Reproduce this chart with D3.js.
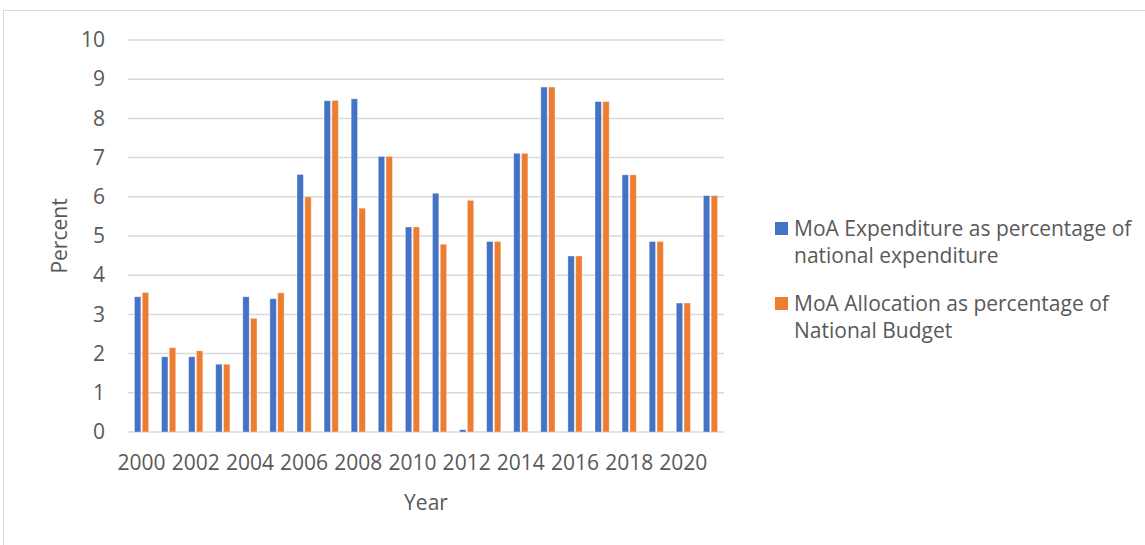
<!DOCTYPE html>
<html>
<head>
<meta charset="utf-8">
<script src="https://cdn.jsdelivr.net/npm/d3@7"></script>
<style>
  html, body { margin: 0; padding: 0; background: #fff; }
  svg { display: block; }
  text { font-family: "Open Sans", "Liberation Sans", sans-serif; fill: #595959; }
</style>
</head>
<body>
<svg id="chart" width="1145" height="545"></svg>
<script>
// Ministry of Agriculture share of national spending, 2000–2021 (percent)
const years = d3.range(2000, 2022);
const expenditure = [3.45, 1.92, 1.92, 1.73, 3.45, 3.40, 6.57, 8.45, 8.50, 7.03, 5.23,
                     6.09, 0.06, 4.86, 7.11, 8.80, 4.49, 8.43, 6.56, 4.86, 3.29, 6.03];
const allocation  = [3.56, 2.15, 2.07, 1.73, 2.90, 3.55, 6.00, 8.46, 5.71, 7.03, 5.23,
                     4.79, 5.91, 4.86, 7.11, 8.80, 4.49, 8.43, 6.56, 4.86, 3.29, 6.03];
const yTicks = [0, 1, 2, 3, 4, 5, 6, 7, 8, 9, 10];
const xTickYears = years.filter(y => (y - 2000) % 2 === 0);
const seriesNames = ["MoA Expenditure as percentage of national expenditure",
                     "MoA Allocation as percentage of National Budget"];
const legendLines = [["MoA Expenditure as percentage of", "national expenditure"],
                     ["MoA Allocation as percentage of", "National Budget"]];
const colors = ["#4472C4", "#ED7D31"];

const svg = d3.select("#chart");

// outer chart frame
svg.append("rect")
  .attr("x", 3.5).attr("y", 10.5).attr("width", 1300).attr("height", 700)
  .attr("fill", "none").attr("stroke", "#D9D9D9").attr("stroke-width", 1);

const plot = { left: 128, right: 724, top: 40, bottom: 432 };

const x = d3.scaleBand().domain(years).range([plot.left, plot.right]).padding(0);
const y = d3.scaleLinear().domain([0, 10]).range([plot.bottom, plot.top]);

// horizontal gridlines
svg.append("g").selectAll("line").data(yTicks).join("line")
  .attr("x1", plot.left).attr("x2", plot.right)
  .attr("y1", d => y(d)).attr("y2", d => y(d))
  .attr("stroke", "#D9D9D9").attr("stroke-width", 1.5);

// y axis labels
const yAxis = svg.append("g").attr("transform", `translate(${plot.left - 23},0)`)
  .call(d3.axisLeft(y).tickValues(yTicks).tickSize(0).tickPadding(0).tickFormat(d3.format("d")));
yAxis.select(".domain").remove();
yAxis.selectAll("text").attr("font-size", 21).attr("fill", "#595959")
  .style("font-family", '"Open Sans", sans-serif');

// x axis labels (every second year)
const xAxis = svg.append("g").attr("transform", `translate(0,${plot.bottom})`)
  .call(d3.axisBottom(x).tickValues(xTickYears).tickSize(0).tickPadding(23));
xAxis.select(".domain").remove();
xAxis.selectAll("text").attr("font-size", 21).attr("fill", "#595959")
  .style("font-family", '"Open Sans", sans-serif');

// bars
const barW = 6.4, gap = 1.4;
const groups = [expenditure, allocation];
groups.forEach((vals, si) => {
  svg.append("g").selectAll("rect")
    .data(years.map((yr, i) => ({ yr, v: vals[i] })))
    .join("rect")
    .attr("x", d => x(d.yr) + x.bandwidth() / 2 + (si === 0 ? -(barW + gap / 2) : gap / 2))
    .attr("y", d => y(d.v))
    .attr("width", barW)
    .attr("height", d => y(0) - y(d.v))
    .attr("fill", colors[si])
    .attr("stroke", "#ffffff").attr("stroke-opacity", 0.45).attr("stroke-width", 0.8);
});

// axis titles
svg.append("text")
  .attr("x", (plot.left + plot.right) / 2).attr("y", 510)
  .attr("text-anchor", "middle").attr("font-size", 21).text("Year");

svg.append("text")
  .attr("transform", `translate(67,${(plot.top + plot.bottom) / 2}) rotate(-90)`)
  .attr("text-anchor", "middle").attr("font-size", 21).text("Percent");

// legend
const legend = svg.append("g");
const legendTop = [222, 297];
legendLines.forEach((lines, i) => {
  const g = legend.append("g").attr("aria-label", seriesNames[i]);
  g.append("rect").attr("x", 775).attr("y", legendTop[i])
    .attr("width", 13).attr("height", 13).attr("fill", colors[i]);
  lines.forEach((ln, j) => {
    g.append("text").attr("x", 794).attr("y", legendTop[i] + 13.5 + j * 27.5)
      .attr("font-size", 21).text(ln);
  });
});
</script>
</body>
</html>
